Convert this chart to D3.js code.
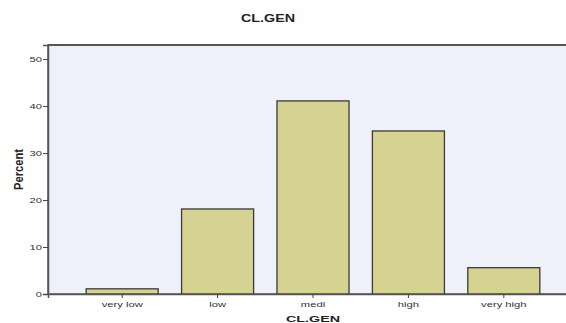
<!DOCTYPE html>
<html><head><meta charset="utf-8">
<script src="https://cdn.jsdelivr.net/npm/d3@7"></script>
<style>body{margin:0;background:#fff}svg{display:block}text{font-family:"Liberation Sans",Arial,sans-serif}</style>
</head><body><svg id="c" width="566" height="323"></svg>
<script>
const categories = ["very low","low","medi","high","very high"];
const percents = [1.1, 18.1, 41.1, 34.7, 5.6];
const yTicks = [0,10,20,30,40,50];
const title = "CL.GEN";
const xTitle = "CL.GEN";
const yTitle = "Percent";

const svg = d3.select("#c");
const L = 48, R = 578, T = 45, B = 294;
const x = d3.scaleBand().domain(categories).range([L, R]).paddingInner(0.245).paddingOuter(0.4);
const y = d3.scaleLinear().domain([0, 53]).range([B, T]);

function stretch(sel, k) {
  sel.each(function () {
    const w = this.getComputedTextLength();
    d3.select(this).attr("textLength", w * k).attr("lengthAdjust", "spacingAndGlyphs");
  });
}

svg.append("rect").attr("x", L).attr("y", T).attr("width", R - L).attr("height", B - T)
  .attr("fill", "#eef1fa").attr("stroke", "#555").attr("stroke-width", 1.5);
svg.append("line").attr("x1", L).attr("x2", R).attr("y1", T).attr("y2", T).attr("stroke", "#555").attr("stroke-width", 2);

svg.selectAll(".bar").data(categories).enter().append("rect")
  .attr("x", d => x(d)).attr("width", x.bandwidth())
  .attr("y", (d, i) => y(percents[i])).attr("height", (d, i) => B - y(percents[i]))
  .attr("fill", "#d6d292").attr("stroke", "#3a3a3a").attr("stroke-width", 1.3);

const ya = svg.append("g").attr("transform", `translate(${L},0)`)
  .call(d3.axisLeft(y).tickValues(yTicks).tickSize(5).tickPadding(1));
ya.select(".domain").attr("stroke", "#555").attr("stroke-width", 1.5);
ya.selectAll(".tick line").attr("stroke", "#444");
ya.selectAll("text").attr("font-size", 8).attr("fill", "#333").attr("font-family", "Liberation Sans, Arial, sans-serif")
  .call(stretch, 1.4);

const xa = svg.append("g").attr("transform", `translate(0,${B})`)
  .call(d3.axisBottom(x).tickSize(4).tickPadding(3));
xa.select(".domain").attr("stroke", "#555").attr("stroke-width", 1.5);
xa.selectAll(".tick line").attr("stroke", "#444");
xa.selectAll("text").attr("font-size", 8).attr("fill", "#333").attr("font-family", "Liberation Sans, Arial, sans-serif")
  .call(stretch, 1.4);

svg.append("text").attr("x", 268).attr("y", 21.5).attr("text-anchor", "middle")
  .attr("font-size", 10).attr("font-weight", "bold").attr("fill", "#222")
  .attr("textLength", 54).attr("lengthAdjust", "spacingAndGlyphs").text(title);
svg.append("text").attr("x", (L + R) / 2).attr("y", 322).attr("text-anchor", "middle")
  .attr("font-size", 9.5).attr("font-weight", "bold").attr("fill", "#222")
  .attr("textLength", 54).attr("lengthAdjust", "spacingAndGlyphs").text(xTitle);
svg.append("text").attr("transform", `translate(23,${(T + B) / 2}) rotate(-90) scale(1,1.3)`).attr("text-anchor", "middle")
  .attr("font-size", 10.5).attr("font-weight", "bold").attr("fill", "#222")
  .attr("textLength", 41).attr("lengthAdjust", "spacingAndGlyphs").text(yTitle);
</script></body></html>
